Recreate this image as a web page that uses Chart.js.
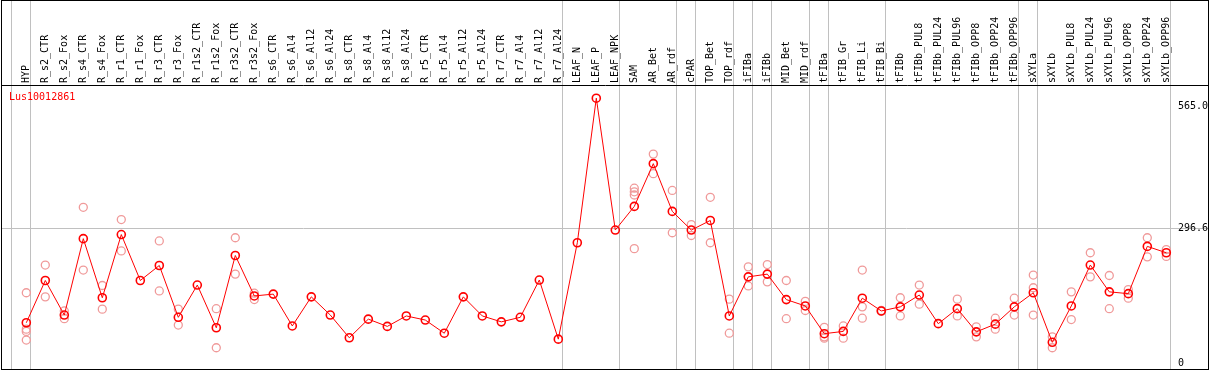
<!DOCTYPE html>
<html>
<head>
<meta charset="utf-8">
<script src="https://cdn.jsdelivr.net/npm/chart.js@4.4.1/dist/chart.umd.min.js"></script>
<style>
  html, body { margin: 0; padding: 0; background: #fff; }
  #box { position: absolute; left: 1px; top: 0; width: 1206px; height: 368px; border: 1px solid #000; }
  #box canvas { position: absolute; left: 0; top: 0; }
  #tag { position: absolute; left: 7px; top: 90px; font: 10px 'DejaVu Sans Mono', monospace; line-height: 12px; color: #f00; }
</style>
</head>
<body>
<div id="box">
  <canvas id="chart" width="1206" height="368"></canvas>
  <div id="tag">Lus10012861</div>
</div>
<script>
// categories (top axis)
const categories = [
  'HYP', 'R_s2_CTR', 'R_s2_Fox', 'R_s4_CTR', 'R_s4_Fox', 'R_r1_CTR', 'R_r1_Fox', 'R_r3_CTR', 'R_r3_Fox',
  'R_r1s2_CTR', 'R_r1s2_Fox', 'R_r3s2_CTR', 'R_r3s2_Fox', 'R_s6_CTR', 'R_s6_Al4', 'R_s6_Al12', 'R_s6_Al24',
  'R_s8_CTR', 'R_s8_Al4', 'R_s8_Al12', 'R_s8_Al24', 'R_r5_CTR', 'R_r5_Al4', 'R_r5_Al12', 'R_r5_Al24',
  'R_r7_CTR', 'R_r7_Al4', 'R_r7_Al12', 'R_r7_Al24', 'LEAF_N', 'LEAF_P', 'LEAF_NPK', 'SAM', 'AR_Bet', 'AR_rdf',
  'cPAR', 'TOP_Bet', 'TOP_rdf', 'iFIBa', 'iFIBb', 'MID_Bet', 'MID_rdf', 'tFIBa', 'tFIB_Gr', 'tFIB_Li', 'tFIB_Bi',
  'tFIBb', 'tFIBb_PUL8', 'tFIBb_PUL24', 'tFIBb_PUL96', 'tFIBb_OPP8', 'tFIBb_OPP24', 'tFIBb_OPP96',
  'sXYLa', 'sXYLb', 'sXYLb_PUL8', 'sXYLb_PUL24', 'sXYLb_PUL96', 'sXYLb_OPP8', 'sXYLb_OPP24', 'sXYLb_OPP96'
];

// mean expression per sample
const means = [
  90, 183, 107, 275, 145, 284, 183, 216, 102, 173, 79, 238, 149, 153, 83, 147, 107,
  57, 98, 82, 105, 96, 67, 147, 105, 92, 102, 184, 54, 266, 584, 294, 346, 440, 335,
  294, 315, 105, 191, 197, 141, 127, 66, 71, 144, 116,
  125, 151, 88, 121, 70, 87, 125,
  156, 47, 127, 217, 158, 154, 258, 244
];

// single replicates (light circles), one list per sample
const replicates = [
  [156, 76, 71, 52], [217, 147], [116, 99], [344, 206], [172, 120], [317, 248], [], [270, 160], [120, 85],
  [], [121, 35], [277, 197], [155, 141], [], [], [], [],
  [], [], [], [], [], [], [], [],
  [], [], [], [], [], [], [], [386, 378, 371, 253], [461, 418], [381, 288],
  [306, 282], [366, 266], [142, 67], [213, 171], [218, 180], [183, 99], [137, 117], [80, 59, 56], [83, 56], [206, 125, 100], [117, 115],
  [145, 105], [173, 131], [], [142, 105], [81, 59], [100, 76], [144, 107],
  [195, 167, 107], [59, 35], [158, 97], [244, 191], [194, 121], [163, 144], [277, 235], [251, 236]
];

// samples followed by a separator line
const separators = ['HYP', 'R_r7_Al24', 'LEAF_NPK', 'AR_rdf', 'cPAR', 'TOP_rdf', 'iFIBa', 'iFIBb',
  'MID_rdf', 'tFIBa', 'tFIB_Bi', 'tFIBb_OPP96', 'sXYLa', 'sXYLb_OPP96'];

// right-hand axis labels
const yTickValues = [0, 296.6, 565.0];
const yTickLabels = ['0', '296.6', '565.0'];

const RED = '#ff0000';
const PINK = '#f09a9a';
const GRID = '#c0c0c0';
const FONT = { family: "'DejaVu Sans Mono', monospace", size: 10 };
const SEP_SHIFT = 0.237; // separators sit a little right of the sample

const meanPoints = means.map((v, i) => ({ x: i, y: v }));
const repPoints = [];
replicates.forEach((list, i) => list.forEach(v => repPoints.push({ x: i, y: v })));

// tick 0 is the separator before the first sample, tick k is sample k-1
const sepTickIdx = [0].concat(separators.map(s => categories.indexOf(s) + 1));

new Chart(document.getElementById('chart'), {
  type: 'line',
  data: {
    datasets: [
      {
        label: 'mean',
        data: meanPoints,
        borderColor: RED,
        borderWidth: 1,
        pointStyle: 'circle',
        pointRadius: 4,
        pointBorderWidth: 1.6,
        pointBorderColor: RED,
        pointBackgroundColor: 'rgba(0,0,0,0)',
        tension: 0,
        order: 0
      },
      {
        label: 'replicates',
        data: repPoints,
        showLine: false,
        pointStyle: 'circle',
        pointRadius: 4,
        pointBorderWidth: 1.3,
        pointBorderColor: PINK,
        pointBackgroundColor: 'rgba(0,0,0,0)',
        order: 1
      }
    ]
  },
  options: {
    responsive: false,
    animation: false,
    devicePixelRatio: 1,
    layout: { padding: 0, autoPadding: false },
    plugins: { legend: { display: false }, tooltip: { enabled: false } },
    scales: {
      x: {
        type: 'linear',
        position: 'top',
        min: -24.3 / 19,
        max: (1206 - 24.3) / 19,
        afterBuildTicks: scale => {
          scale.ticks = [-1].concat(categories.map((c, i) => i)).map(i => ({ value: i + SEP_SHIFT }));
        },
        afterFit: scale => {
          scale.height = 84;
          scale.paddingLeft = 0;
          scale.paddingRight = 0;
        },
        border: { display: true, color: '#000', width: 1 },
        grid: {
          color: ctx => sepTickIdx.includes(ctx.index) ? GRID : 'rgba(0,0,0,0)',
          lineWidth: 1,
          drawTicks: true,
          tickLength: 84
        },
        ticks: {
          autoSkip: false,
          minRotation: 90,
          maxRotation: 90,
          padding: -82,
          labelOffset: 7.5,
          color: '#000',
          font: FONT,
          callback: (v, idx) => idx === 0 ? '' : categories[idx - 1]
        }
      },
      y: {
        type: 'linear',
        position: 'right',
        min: -11.7,
        max: 613,
        afterBuildTicks: scale => {
          scale.ticks = yTickValues.map(v => ({ value: v }));
        },
        afterFit: scale => {
          scale.width = 0;
          scale.paddingTop = 0;
          scale.paddingBottom = 0;
        },
        border: { display: false },
        grid: {
          color: ctx => ctx.tick && ctx.tick.value === 296.6 ? GRID : 'rgba(0,0,0,0)',
          drawTicks: false
        },
        ticks: {
          mirror: true,
          crossAlign: 'far',
          padding: 0,
          // the middle label sits just under its grid line
          labelOffset: ctx => ctx.index === 1 ? 4 : 0,
          color: '#000',
          font: FONT,
          callback: (v, idx) => yTickLabels[idx]
        }
      }
    }
  }
});
</script>
</body>
</html>
